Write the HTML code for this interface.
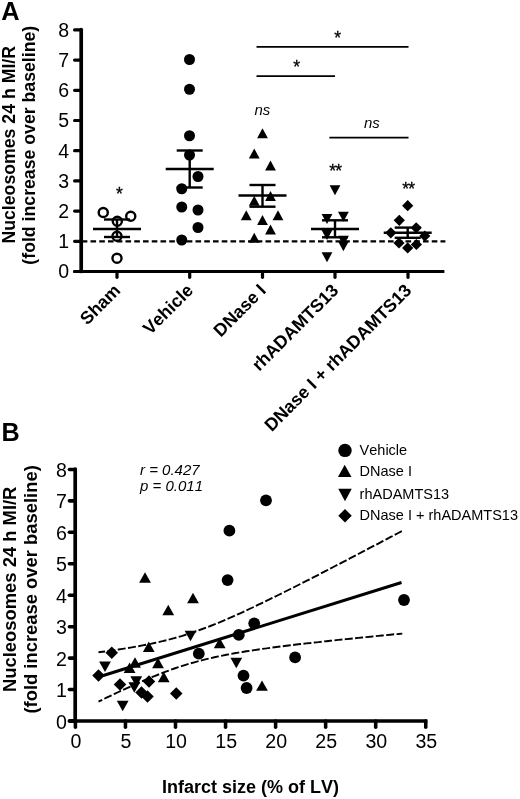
<!DOCTYPE html>
<html><head><meta charset="utf-8"><title>Figure</title>
<style>html,body{margin:0;padding:0;background:#fff}svg{display:block;will-change:transform}text{font-family:"Liberation Sans",sans-serif;fill:#000;font-kerning:none}</style></head>
<body>
<svg width="520" height="799" viewBox="0 0 520 799">
<rect width="520" height="799" fill="#fff"/>
<text x="1.2" y="19.5" font-size="25.4" font-weight="bold">A</text>
<text transform="translate(14.9,144.8) rotate(-90)" text-anchor="middle" font-size="17.7" font-weight="bold">Nucleosomes 24 h MI/R</text>
<text transform="translate(34.6,145.2) rotate(-90)" text-anchor="middle" font-size="17.7" font-weight="bold">(fold increase over baseline)</text>
<g stroke="#000" stroke-width="3.2" fill="none" stroke-linecap="round" stroke-linejoin="round">
<path d="M81.2 29.6V271.5" stroke-width="3.7"/>
<path d="M74.6 271.5H444.4" stroke-linecap="butt"/>
<path d="M74.6 271.5H80"/>
<path d="M74.6 271.50H81"/>
<path d="M74.6 241.30H81"/>
<path d="M74.6 211.10H81"/>
<path d="M74.6 180.90H81"/>
<path d="M74.6 150.70H81"/>
<path d="M74.6 120.50H81"/>
<path d="M74.6 90.30H81"/>
<path d="M74.6 60.10H81"/>
<path d="M74.6 29.90H81"/>
<path d="M117 271.5V277.3"/>
<path d="M189.7 271.5V277.3"/>
<path d="M262.5 271.5V277.3"/>
<path d="M335 271.5V277.3"/>
<path d="M408 271.5V277.3"/>
</g>
<text x="69.2" y="278.40" text-anchor="end" font-size="19.5">0</text>
<text x="69.2" y="248.20" text-anchor="end" font-size="19.5">1</text>
<text x="69.2" y="218.00" text-anchor="end" font-size="19.5">2</text>
<text x="69.2" y="187.80" text-anchor="end" font-size="19.5">3</text>
<text x="69.2" y="157.60" text-anchor="end" font-size="19.5">4</text>
<text x="69.2" y="127.40" text-anchor="end" font-size="19.5">5</text>
<text x="69.2" y="97.20" text-anchor="end" font-size="19.5">6</text>
<text x="69.2" y="67.00" text-anchor="end" font-size="19.5">7</text>
<text x="69.2" y="36.80" text-anchor="end" font-size="19.5">8</text>
<path d="M81.75 241.3H445.4" stroke="#000" stroke-width="2.2" stroke-dasharray="5.6 3.15" fill="none"/>
<g fill="#fff" stroke="#000" stroke-width="2.4">
<circle cx="103.25" cy="212.5" r="4.55"/><circle cx="130.75" cy="216.25" r="4.55"/><circle cx="117.3" cy="221.25" r="4.55"/><circle cx="117" cy="236.25" r="4.55"/><circle cx="117" cy="258.25" r="4.55"/></g>
<g fill="#000">
<circle cx="189.50" cy="59.50" r="5.5"/><circle cx="189.50" cy="89.25" r="5.5"/><circle cx="189.50" cy="135.75" r="5.5"/><circle cx="189.50" cy="155.00" r="5.5"/><circle cx="198.00" cy="176.50" r="5.5"/><circle cx="181.75" cy="188.75" r="5.5"/><circle cx="181.75" cy="207.00" r="5.5"/><circle cx="198.00" cy="210.00" r="5.5"/><circle cx="198.00" cy="227.50" r="5.5"/><circle cx="181.75" cy="240.00" r="5.5"/>
<path d="M262.50 128.20L267.90 138.20L257.10 138.20Z"/><path d="M254.25 148.50L259.65 158.50L248.85 158.50Z"/><path d="M270.50 160.50L275.90 170.50L265.10 170.50Z"/><path d="M270.50 191.00L275.90 201.00L265.10 201.00Z"/><path d="M254.25 195.70L259.65 205.70L248.85 205.70Z"/><path d="M246.25 210.20L251.65 220.20L240.85 220.20Z"/><path d="M278.00 210.20L283.40 220.20L272.60 220.20Z"/><path d="M262.50 215.00L267.90 225.00L257.10 225.00Z"/><path d="M270.50 224.40L275.90 234.40L265.10 234.40Z"/><path d="M254.25 232.80L259.65 242.80L248.85 242.80Z"/>
<path d="M335.00 195.20L340.40 185.20L329.60 185.20Z"/><path d="M327.00 224.00L332.40 214.00L321.60 214.00Z"/><path d="M343.40 221.70L348.80 211.70L338.00 211.70Z"/><path d="M327.00 240.00L332.40 230.00L321.60 230.00Z"/><path d="M343.40 245.80L348.80 235.80L338.00 235.80Z"/><path d="M343.40 251.20L348.80 241.20L338.00 241.20Z"/><path d="M327.00 262.30L332.40 252.30L321.60 252.30Z"/>
<path d="M407.70 200.10L413.30 205.70L407.70 211.30L402.10 205.70Z"/><path d="M399.30 214.70L404.90 220.30L399.30 225.90L393.70 220.30Z"/><path d="M416.20 222.20L421.80 227.80L416.20 233.40L410.60 227.80Z"/><path d="M390.80 227.20L396.40 232.80L390.80 238.40L385.20 232.80Z"/><path d="M424.80 230.40L430.40 236.00L424.80 241.60L419.20 236.00Z"/><path d="M399.00 237.40L404.60 243.00L399.00 248.60L393.40 243.00Z"/><path d="M416.40 238.90L422.00 244.50L416.40 250.10L410.80 244.50Z"/><path d="M407.70 242.30L413.30 247.90L407.70 253.50L402.10 247.90Z"/></g>
<g stroke="#000" stroke-width="2.4" fill="none"><path d="M93 229H141"/><path d="M104 219.5H130"/><path d="M104 237H130"/><path d="M117 219.5V237"/></g>
<g stroke="#000" stroke-width="2.4" fill="none"><path d="M165.7 169H213.7"/><path d="M176.7 150.5H202.7"/><path d="M176.7 187.5H202.7"/><path d="M189.7 150.5V187.5"/></g>
<g stroke="#000" stroke-width="2.4" fill="none"><path d="M238.5 195.5H286.5"/><path d="M249.5 185H275.5"/><path d="M249.5 206.7H275.5"/><path d="M262.5 185V206.7"/></g>
<g stroke="#000" stroke-width="2.4" fill="none"><path d="M311 229H359"/><path d="M322 220.3H348"/><path d="M322 237.3H348"/><path d="M335 220.3V237.3"/></g>
<g stroke="#000" stroke-width="2.4" fill="none"><path d="M383.7 232.7H431.7"/><path d="M394.7 227.6H420.7"/><path d="M394.7 237.8H420.7"/><path d="M407.7 227.6V237.8"/></g>
<g stroke="#000" stroke-width="1.8" fill="none"><path d="M256.5 46.8H408.5"/><path d="M256.5 76.2H335"/><path d="M329.4 137.7H408.5"/></g>
<g font-size="17.5" text-anchor="middle" stroke="#000" stroke-width="0.3"><text x="337.6" y="43.7">*</text><text x="296.7" y="72.7">*</text><text x="119.5" y="200.2">*</text><text x="335.2" y="177.1" letter-spacing="-0.8">**</text><text x="408.3" y="194.6" letter-spacing="-0.8">**</text></g>
<g font-size="15" text-anchor="middle" font-style="italic"><text x="262.4" y="115.3">ns</text><text x="371.8" y="127.8">ns</text></g>
<g font-size="17.8" font-weight="bold" text-anchor="end">
<text transform="translate(121.5,291.5) rotate(-45)">Sham</text>
<text transform="translate(194.2,291.5) rotate(-45)">Vehicle</text>
<text transform="translate(267.0,291.5) rotate(-45)">DNase I</text>
<text transform="translate(339.5,291.5) rotate(-45)">rhADAMTS13</text>
<text transform="translate(412.5,291.5) rotate(-45)">DNase I + rhADAMTS13</text>
</g>
<text x="1.4" y="441.4" font-size="25.2" font-weight="bold">B</text>
<text transform="translate(16.4,589.3) rotate(-90)" text-anchor="middle" font-size="18.4" font-weight="bold">Nucleosomes 24 h MI/R</text>
<text transform="translate(36.9,589.4) rotate(-90)" text-anchor="middle" font-size="18.4" font-weight="bold">(fold increase over baseline)</text>
<g stroke="#000" stroke-width="3.55" fill="none" stroke-linecap="round" stroke-linejoin="round">
<path d="M75.2 469V721.0" stroke-width="3.7"/>
<path d="M69.4 721.0H427.4" stroke-linecap="butt"/>
<path d="M69.4 721.0H75"/>
<path d="M69.4 721.00H75"/>
<path d="M69.4 689.55H75"/>
<path d="M69.4 658.10H75"/>
<path d="M69.4 626.65H75"/>
<path d="M69.4 595.20H75"/>
<path d="M69.4 563.75H75"/>
<path d="M69.4 532.30H75"/>
<path d="M69.4 500.85H75"/>
<path d="M69.4 469.40H75"/>
<path d="M75.40 721.0V727.2"/>
<path d="M125.45 721.0V727.2"/>
<path d="M175.50 721.0V727.2"/>
<path d="M225.55 721.0V727.2"/>
<path d="M275.60 721.0V727.2"/>
<path d="M325.65 721.0V727.2"/>
<path d="M375.70 721.0V727.2"/>
<path d="M425.75 721.0V727.2"/>
</g>
<text x="67.0" y="728.60" text-anchor="end" font-size="19.6">0</text>
<text x="67.0" y="697.15" text-anchor="end" font-size="19.6">1</text>
<text x="67.0" y="665.70" text-anchor="end" font-size="19.6">2</text>
<text x="67.0" y="634.25" text-anchor="end" font-size="19.6">3</text>
<text x="67.0" y="602.80" text-anchor="end" font-size="19.6">4</text>
<text x="67.0" y="571.35" text-anchor="end" font-size="19.6">5</text>
<text x="67.0" y="539.90" text-anchor="end" font-size="19.6">6</text>
<text x="67.0" y="508.45" text-anchor="end" font-size="19.6">7</text>
<text x="67.0" y="477.00" text-anchor="end" font-size="19.6">8</text>
<text x="76.00" y="747.8" text-anchor="middle" font-size="19.6">0</text>
<text x="126.05" y="747.8" text-anchor="middle" font-size="19.6">5</text>
<text x="176.10" y="747.8" text-anchor="middle" font-size="19.6">10</text>
<text x="226.15" y="747.8" text-anchor="middle" font-size="19.6">15</text>
<text x="276.20" y="747.8" text-anchor="middle" font-size="19.6">20</text>
<text x="326.25" y="747.8" text-anchor="middle" font-size="19.6">25</text>
<text x="376.30" y="747.8" text-anchor="middle" font-size="19.6">30</text>
<text x="426.35" y="747.8" text-anchor="middle" font-size="19.6">35</text>
<text x="250.5" y="793" text-anchor="middle" font-size="18" font-weight="bold">Infarct size (% of LV)</text>
<g stroke="#000" stroke-width="1.9" fill="none" stroke-dasharray="8 2.4"><path d="M98.5 652.3 L102.5 651.8 L106.5 651.3 L110.5 650.7 L114.5 650.1 L118.5 649.5 L122.5 648.9 L126.5 648.3 L130.5 647.6 L134.5 646.9 L138.5 646.2 L142.5 645.4 L146.5 644.7 L150.5 643.9 L154.5 643.0 L158.5 642.1 L162.5 641.2 L166.5 640.2 L170.5 639.2 L174.4 638.1 L178.4 637.0 L182.4 635.8 L186.4 634.5 L190.4 633.2 L194.4 631.9 L198.4 630.5 L202.4 629.0 L206.4 627.5 L210.4 626.0 L214.4 624.4 L218.4 622.8 L222.4 621.1 L226.4 619.4 L230.4 617.7 L234.4 615.9 L238.4 614.1 L242.4 612.3 L246.4 610.4 L250.4 608.5 L254.4 606.7 L258.4 604.7 L262.4 602.8 L266.4 600.9 L270.4 598.9 L274.4 597.0 L278.4 595.0 L282.4 593.0 L286.4 591.0 L290.4 589.0 L294.4 587.0 L298.4 585.0 L302.4 582.9 L306.4 580.9 L310.4 578.9 L314.4 576.8 L318.4 574.8 L322.4 572.7 L326.4 570.6 L330.3 568.6 L334.3 566.5 L338.3 564.4 L342.3 562.4 L346.3 560.3 L350.3 558.2 L354.3 556.1 L358.3 554.0 L362.3 551.9 L366.3 549.8 L370.3 547.7 L374.3 545.6 L378.3 543.6 L382.3 541.4 L386.3 539.3 L390.3 537.2 L394.3 535.1 L398.3 533.0 L402.3 530.9" stroke-dashoffset="1.4"/><path d="M98.5 701.6 L102.5 699.7 L106.5 697.7 L110.5 695.8 L114.5 693.9 L118.5 692.0 L122.5 690.1 L126.5 688.3 L130.5 686.5 L134.5 684.6 L138.5 682.9 L142.5 681.1 L146.5 679.4 L150.5 677.7 L154.5 676.1 L158.5 674.5 L162.5 672.9 L166.5 671.4 L170.5 669.9 L174.4 668.5 L178.4 667.2 L182.4 665.9 L186.4 664.6 L190.4 663.4 L194.4 662.3 L198.4 661.2 L202.4 660.1 L206.4 659.1 L210.4 658.2 L214.4 657.3 L218.4 656.4 L222.4 655.6 L226.4 654.8 L230.4 654.1 L234.4 653.3 L238.4 652.6 L242.4 652.0 L246.4 651.3 L250.4 650.7 L254.4 650.1 L258.4 649.5 L262.4 648.9 L266.4 648.4 L270.4 647.8 L274.4 647.3 L278.4 646.8 L282.4 646.3 L286.4 645.8 L290.4 645.3 L294.4 644.8 L298.4 644.3 L302.4 643.9 L306.4 643.4 L310.4 643.0 L314.4 642.5 L318.4 642.1 L322.4 641.6 L326.4 641.2 L330.3 640.8 L334.3 640.4 L338.3 639.9 L342.3 639.5 L346.3 639.1 L350.3 638.7 L354.3 638.3 L358.3 637.9 L362.3 637.5 L366.3 637.1 L370.3 636.7 L374.3 636.3 L378.3 635.9 L382.3 635.5 L386.3 635.1 L390.3 634.7 L394.3 634.3 L398.3 634.0 L402.3 633.6" stroke-dashoffset="3.88"/></g>
<path d="M102.5 675.75L401.5 582.5" stroke="#000" stroke-width="3" fill="none"/>
<g fill="#000">
<circle cx="266.00" cy="500.30" r="5.9"/><circle cx="229.40" cy="530.70" r="5.9"/><circle cx="227.60" cy="580.10" r="5.9"/><circle cx="254.20" cy="623.30" r="5.9"/><circle cx="238.80" cy="634.90" r="5.9"/><circle cx="198.80" cy="653.70" r="5.9"/><circle cx="295.10" cy="657.40" r="5.9"/><circle cx="243.50" cy="675.60" r="5.9"/><circle cx="246.60" cy="688.00" r="5.9"/><circle cx="404.00" cy="600.00" r="5.9"/>
<path d="M145.00 572.30L150.90 582.70L139.10 582.70Z"/><path d="M168.25 604.80L174.15 615.20L162.35 615.20Z"/><path d="M193.00 592.80L198.90 603.20L187.10 603.20Z"/><path d="M148.75 641.50L154.65 651.90L142.85 651.90Z"/><path d="M135.00 657.30L140.90 667.70L129.10 667.70Z"/><path d="M129.60 662.60L135.50 673.00L123.70 673.00Z"/><path d="M158.00 657.80L163.90 668.20L152.10 668.20Z"/><path d="M163.75 671.80L169.65 682.20L157.85 682.20Z"/><path d="M219.70 637.80L225.60 648.20L213.80 648.20Z"/><path d="M262.00 680.40L267.90 690.80L256.10 690.80Z"/>
<path d="M105.00 671.90L110.90 661.50L99.10 661.50Z"/><path d="M190.50 641.20L196.40 630.80L184.60 630.80Z"/><path d="M136.25 686.70L142.15 676.30L130.35 676.30Z"/><path d="M134.30 692.70L140.20 682.30L128.40 682.30Z"/><path d="M122.70 711.20L128.60 700.80L116.80 700.80Z"/><path d="M236.30 668.20L242.20 657.80L230.40 657.80Z"/>
<path d="M111.75 646.45L118.00 652.70L111.75 658.95L105.50 652.70Z"/><path d="M98.50 669.35L104.75 675.60L98.50 681.85L92.25 675.60Z"/><path d="M120.00 678.15L126.25 684.40L120.00 690.65L113.75 684.40Z"/><path d="M149.00 675.25L155.25 681.50L149.00 687.75L142.75 681.50Z"/><path d="M176.25 687.25L182.50 693.50L176.25 699.75L170.00 693.50Z"/><path d="M147.50 690.25L153.75 696.50L147.50 702.75L141.25 696.50Z"/><path d="M141.50 686.25L147.75 692.50L141.50 698.75L135.25 692.50Z"/></g>
<g fill="#000"><circle cx="345.00" cy="450.40" r="6.7"/><path d="M344.70 464.75L351.45 476.95L337.95 476.95Z"/><path d="M345.00 501.20L351.75 488.80L338.25 488.80Z"/><path d="M345.00 509.05L351.75 515.80L345.00 522.55L338.25 515.80Z"/></g>
<g font-size="14.5"><text x="359.6" y="455">Vehicle</text><text x="359.6" y="476.3">DNase I</text><text x="359.6" y="498.5">rhADAMTS13</text><text x="359.6" y="520.4">DNase I + rhADAMTS13</text></g>
<g font-size="15" font-style="italic"><text x="140" y="474.5">r = 0.427</text><text x="140" y="490.5">p = 0.011</text></g>
</svg>
</body></html>
